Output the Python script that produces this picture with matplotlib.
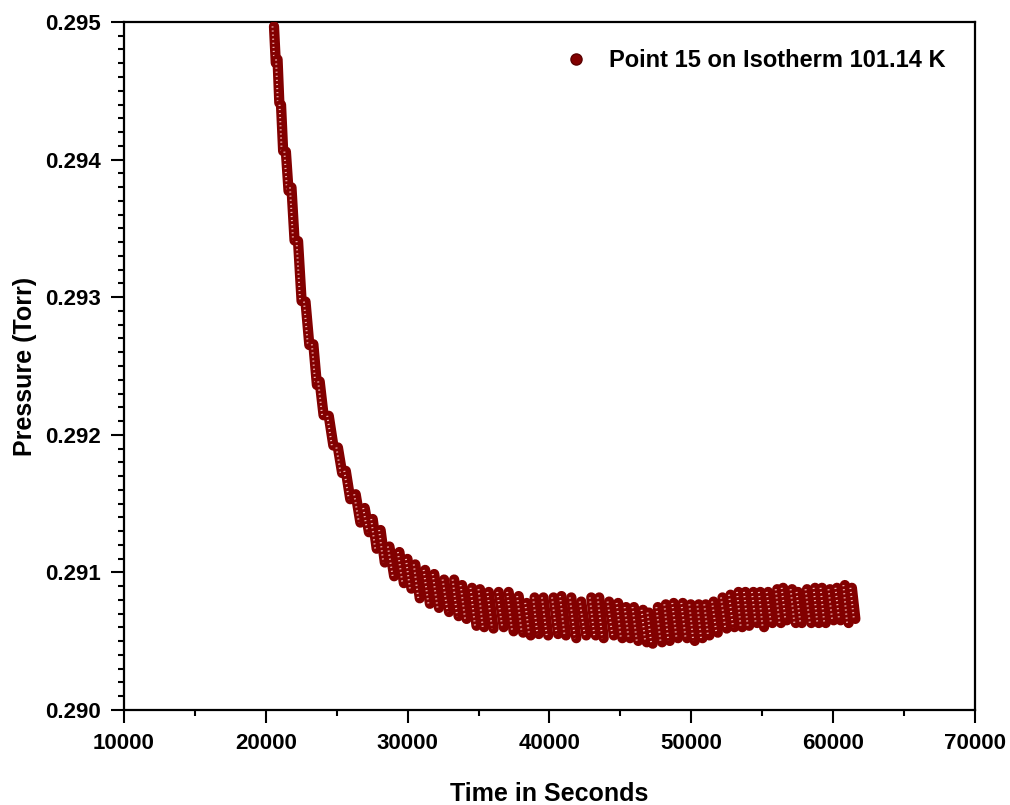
import matplotlib
matplotlib.use("Agg")
from matplotlib import pyplot as plt
from matplotlib.lines import Line2D
from matplotlib.ticker import MultipleLocator, FormatStrFormatter
import matplotlib.transforms as mtransforms
import numpy as np

plt.rcParams['font.family'] = ['Liberation Sans', 'DejaVu Sans']
plt.rcParams['font.weight'] = 'bold'

# each logging cycle shows up as a stack of points:
# cycle time, highest and lowest pressure in that stack
cycle_time = [20600, 20850, 21100, 21450, 21850, 22320, 22850, 23400, 23850, 24500,
              25140, 25700, 26400, 27030, 27590, 28150, 28780, 29480, 30040, 30600,
              31300, 31940, 32640, 33340, 33900, 34600, 35160, 35790, 36490, 37190,
              37890, 38450, 39010, 39640, 40350, 40910, 41610, 42310, 43010, 43570,
              44270, 44900, 45460, 46020, 46650, 47070, 47700, 48260, 48820, 49460,
              50020, 50580, 51070, 51630, 52260, 52820, 53380, 53870, 54430, 54920,
              55480, 56110, 56530, 57160, 57580, 58220, 58780, 59270, 59830, 60320,
              60880, 61370]
p_high = [0.29500, 0.29476, 0.29443, 0.29409, 0.29383, 0.29344, 0.29300, 0.29269, 0.29242, 0.29217,
          0.29194, 0.29177, 0.29160, 0.29150, 0.29142, 0.29134, 0.29122, 0.29118, 0.29113, 0.29109,
          0.29105, 0.29102, 0.29098, 0.29098, 0.29094, 0.29092, 0.29091, 0.29089, 0.29089, 0.29089,
          0.29086, 0.29081, 0.29085, 0.29085, 0.29085, 0.29086, 0.29085, 0.29082, 0.29085, 0.29085,
          0.29082, 0.29081, 0.29078, 0.29078, 0.29076, 0.29074, 0.29078, 0.29080, 0.29081, 0.29081,
          0.29080, 0.29080, 0.29080, 0.29082, 0.29085, 0.29087, 0.29089, 0.29089, 0.29089, 0.29089,
          0.29089, 0.29091, 0.29092, 0.29091, 0.29089, 0.29091, 0.29092, 0.29092, 0.29091, 0.29092,
          0.29094, 0.29092]
p_low = [0.29467, 0.29438, 0.29403, 0.29374, 0.29338, 0.29294, 0.29262, 0.29233, 0.29211, 0.29189,
         0.29169, 0.29150, 0.29133, 0.29126, 0.29114, 0.29104, 0.29094, 0.29089, 0.29085, 0.29078,
         0.29074, 0.29071, 0.29068, 0.29065, 0.29063, 0.29058, 0.29057, 0.29056, 0.29057, 0.29054,
         0.29053, 0.29051, 0.29052, 0.29051, 0.29052, 0.29051, 0.29049, 0.29051, 0.29051, 0.29049,
         0.29051, 0.29049, 0.29049, 0.29047, 0.29046, 0.29045, 0.29046, 0.29047, 0.29049, 0.29049,
         0.29047, 0.29049, 0.29051, 0.29053, 0.29056, 0.29057, 0.29057, 0.29058, 0.29060, 0.29057,
         0.29060, 0.29060, 0.29062, 0.29060, 0.29060, 0.29060, 0.29060, 0.29060, 0.29062, 0.29062,
         0.29060, 0.29063]

label = "Point 15 on Isotherm 101.14 K"
dark_red = '#820000'
shine = '#f0b4b4'

fig = plt.figure(figsize=(10.10, 8.05), dpi=100)
ax = fig.add_axes([0.1228, 0.118, 0.8425, 0.8547])

# time keeps running inside a cycle, so each stack leans a little to the right
t = np.array(cycle_time)
dt = np.gradient(t)
pad = 0.000032
shift = mtransforms.offset_copy(ax.transData, fig=fig, x=-1.5, y=0.0, units='dots')
for tc, step, hi, lo in zip(t, dt, p_high, p_low):
    xs = [tc - 0.1 * step, tc + 0.4 * step]
    ys = [hi - pad, lo + pad]
    ax.plot(xs, ys, color=dark_red, lw=7.4, solid_capstyle='round', zorder=3)
    ax.plot(xs, ys, color=shine, lw=1.4, linestyle=(0, (0.6, 1.5)),
            transform=shift, zorder=3)

ax.set_xlim(10000, 70000)
ax.set_ylim(0.290, 0.295)
ax.xaxis.set_major_locator(MultipleLocator(10000))
ax.xaxis.set_minor_locator(MultipleLocator(5000))
ax.yaxis.set_major_locator(MultipleLocator(0.001))
ax.yaxis.set_minor_locator(MultipleLocator(0.0001))
ax.yaxis.set_major_formatter(FormatStrFormatter('%.3f'))

for s in ax.spines.values():
    s.set_linewidth(1.6)
ax.tick_params(which='major', direction='out', length=9.5, width=1.5,
               labelsize=16, pad=7)
ax.tick_params(which='minor', direction='out', length=4.5, width=1.5)
ax.tick_params(top=False, right=False, which='both')

ax.set_xlabel("Time in Seconds", fontsize=18, fontweight='bold', labelpad=20)
ax.set_ylabel("Pressure (Torr)", fontsize=18, fontweight='bold', labelpad=6)

handle = Line2D([], [], linestyle='none', marker='o', markersize=8,
                color=dark_red, markeredgecolor='#5a0000')
ax.legend([handle], [label], loc='upper right', bbox_to_anchor=(0.985, 0.985),
          frameon=False, fontsize=17, handletextpad=0.4, borderaxespad=0.3)

plt.savefig("out.png", dpi=100)
